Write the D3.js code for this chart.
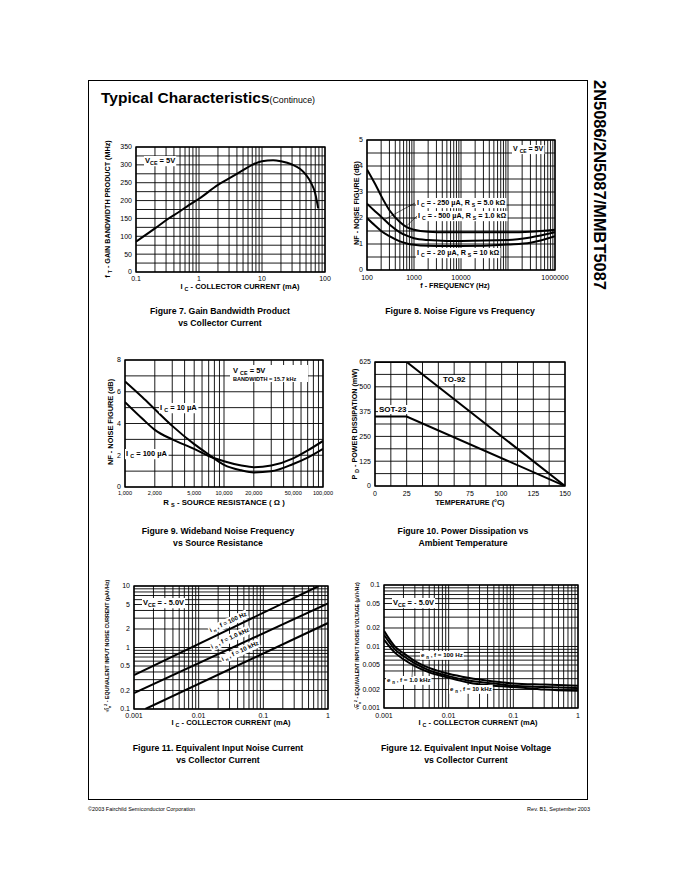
<!DOCTYPE html>
<html><head><meta charset="utf-8">
<script src="https://cdn.jsdelivr.net/npm/d3@7"></script>
<style>body{margin:0;background:#fff} text{font-family:"Liberation Sans",Arial,Helvetica,sans-serif;fill:#000}</style>
</head><body><svg id="c" width="680" height="880"></svg>
<script>
// ---------- DATA ----------
// Figure 7: Gain bandwidth product vs collector current
const fig7Current = [0.1,0.2,0.3,0.5,0.7,1,2,3,5,7,10,15,20,30,40,50,60,70,78];
const fig7Ft      = [85,122,145,170,188,205,244,262,285,300,310,313,310,301,289,272,250,220,178];
const fig7XTicks = [0.1,1,10,100];
const fig7YTicks = [0,50,100,150,200,250,300,350];

// Figure 8: Noise figure vs frequency
const fig8Freq = [100,150,200,300,500,700,1000,2000,5000,10000,100000,300000,1000000];
const nf500uA_1k  = [3.87,3.3,2.85,2.3,1.85,1.65,1.55,1.47,1.45,1.45,1.45,1.47,1.55];
const nf250uA_5k  = [2.55,2.25,2.05,1.75,1.45,1.32,1.22,1.15,1.12,1.12,1.15,1.25,1.45];
const nf20uA_10k  = [2.0,1.7,1.5,1.3,1.1,1.02,0.97,0.93,0.92,0.92,0.98,1.05,1.3];
const fig8XTicks = [100,1000,10000,1000000];
const fig8YTicks = [0,1,2,3,4,5];

// Figure 9: Wideband noise figure vs source resistance
const fig9Rs = [1000,1500,2000,3000,5000,7000,10000,15000,20000,30000,50000,70000,100000];
const nf10uA  = [6.65,5.65,4.9,3.85,2.7,2.05,1.4,1.05,0.92,0.99,1.45,1.85,2.4];
const nf100uA = [5.35,4.3,3.6,3.0,2.4,1.95,1.62,1.35,1.25,1.35,1.8,2.3,2.9];
const fig9XTicks = [1000,2000,5000,10000,20000,50000,100000];
const fig9YTicks = [0,2,4,6,8];

// Figure 10: Power dissipation vs ambient temperature
const fig10Temp = [0,25,150];
const pdTO92  = [625,625,0];
const pdSOT23 = [350,350,0];
const fig10XTicks = [0,25,50,75,100,125,150];
const fig10YTicks = [0,125,250,375,500,625];

// Figure 11: Equivalent input noise current vs collector current
const in100Hz_Ic = [0.001,0.72],   in100Hz = [0.355,10];
const in1kHz_Ic  = [0.001,1],      in1kHz  = [0.182,5.2];
const in10kHz_Ic = [0.0015,1],     in10kHz = [0.1,2.5];
const fig11XTicks = [0.001,0.01,0.1,1];
const fig11YTicks = [0.1,0.2,0.5,1,2,5,10];

// Figure 12: Equivalent input noise voltage vs collector current
const fig12Ic = [0.001,0.0015,0.002,0.003,0.005,0.01,0.02,0.05,0.1,0.3,1];
const en100Hz = [0.018,0.0098,0.0078,0.0058,0.0045,0.0036,0.0031,0.0027,0.0025,0.0024,0.0023];
const en1kHz  = [0.0155,0.0088,0.0070,0.0053,0.0041,0.0033,0.0028,0.0025,0.0023,0.0022,0.0021];
const en10kHz = [0.013,0.0078,0.0062,0.0048,0.0038,0.0031,0.0026,0.0023,0.0022,0.0020,0.0019];
const fig12YTicks = [0.001,0.002,0.005,0.01,0.02,0.05,0.1];

// ---------- HELPERS ----------
const svg = d3.select('#c');
svg.append('rect').attr('width',680).attr('height',880).attr('fill','#fff');

function logGrid(a,b){
  const out=[];
  for(let e=Math.floor(Math.log10(a)); e<=Math.ceil(Math.log10(b)); e++){
    for(let k=1;k<10;k++){ const v=k*Math.pow(10,e); if(v>=a*0.999 && v<=b*1.001) out.push(v); }
  }
  return out;
}
let clipN=0;
function panel(c){
  const g = svg.append('g');
  const [x0,x1]=c.x.range(), [y0,y1]=c.y.range();
  g.append('g').selectAll('line').data(c.xGrid).join('line')
    .attr('x1',d=>c.x(d)).attr('x2',d=>c.x(d)).attr('y1',y0).attr('y2',y1)
    .attr('stroke','#000').attr('stroke-width',0.9);
  g.append('g').selectAll('line').data(c.yGrid).join('line')
    .attr('y1',d=>c.y(d)).attr('y2',d=>c.y(d)).attr('x1',x0).attr('x2',x1)
    .attr('stroke','#000').attr('stroke-width',0.9);
  g.append('rect').attr('x',x0).attr('y',y1).attr('width',x1-x0).attr('height',y0-y1)
    .attr('fill','none').attr('stroke','#000').attr('stroke-width',1.4);
  g.append('g').selectAll('text').data(c.xTicks).join('text')
    .attr('x',d=>c.x(d)).attr('y',y0+c.xdy).attr('text-anchor','middle')
    .attr('font-size',c.xfs||7).text(c.xFmt);
  g.append('g').selectAll('text').data(c.yTicks).join('text')
    .attr('x',x0-4).attr('y',d=>c.y(d)).attr('dy','0.35em').attr('text-anchor','end')
    .attr('font-size',c.yfs||7).text(c.yFmt);
  const id='clip'+(clipN++);
  svg.append('clipPath').attr('id',id).append('rect').attr('x',x0).attr('y',y1).attr('width',x1-x0).attr('height',y0-y1);
  g.curves = g.append('g').attr('clip-path',`url(#${id})`);
  return g;
}
function rich(g, x, y, parts, o){
  const fs=o.size;
  const t=g.append('text').attr('x',x).attr('y',y).attr('font-size',fs)
    .attr('font-weight',o.weight||'bold').attr('text-anchor',o.anchor||'start');
  if(o.transform) t.attr('transform',o.transform);
  let shift=0;
  parts.forEach(p=>{
    const ts=t.append('tspan'); let target=0,size=fs,txt=p;
    if(typeof p==='object'){
      if(p.s!=null){target=fs*0.3;size=fs*0.72;txt=p.s;}
      else if(p.p!=null){target=-fs*0.4;size=fs*0.65;txt=p.p;}
      else if(p.o!=null){txt=p.o;ts.attr('text-decoration','overline');}
    }
    ts.attr('dy',target-shift).attr('font-size',size).text(txt);
    shift=target;
  });
  if(o.bg){
    const b=t.node().getBBox(), pad=o.pad==null?1:o.pad;
    const r=g.insert('rect',()=>t.node()).attr('x',b.x-pad).attr('y',b.y).attr('width',b.width+2*pad).attr('height',b.height).attr('fill','#fff');
    if(o.transform) r.attr('transform',o.transform);
  }
  return t;
}
function curve(g, xs, ys, x, y, kind){
  g.curves.append('path').datum(d3.zip(xs,ys))
    .attr('d',d3.line().x(d=>x(d[0])).y(d=>y(d[1])).curve(kind||d3.curveMonotoneX))
    .attr('fill','none').attr('stroke','#000').attr('stroke-width',2);
}
function caption(x, y, lines){
  lines.forEach((l,i)=>svg.append('text').attr('x',x).attr('y',y+i*12).attr('text-anchor','middle')
    .attr('font-size',8.7).attr('font-weight','bold').text(l));
}
const fmtComma = d3.format(',');

// ---------- PAGE ----------
svg.append('rect').attr('x',88.5).attr('y',80.5).attr('width',499).attr('height',719)
  .attr('fill','none').attr('stroke','#000').attr('stroke-width',1);
const tt = svg.append('text').attr('x',101).attr('y',103);
tt.append('tspan').attr('font-size',15.5).attr('font-weight','bold').text('Typical Characteristics');
tt.append('tspan').attr('font-size',8.8).text('(Continuce)');
svg.append('text').attr('transform','translate(594,80) rotate(90)').attr('font-size',16)
  .attr('font-weight','bold').attr('textLength',210).attr('lengthAdjust','spacingAndGlyphs')
  .text('2N5086/2N5087/MMBT5087');
svg.append('text').attr('x',88).attr('y',811).attr('font-size',5.5).text('©2003 Fairchild Semiconductor Corporation');
svg.append('text').attr('x',590).attr('y',811).attr('font-size',5.5).attr('text-anchor','end').text('Rev. B1, September 2003');

// ---------- FIGURE 7 ----------
const x7=d3.scaleLog().domain([0.1,100]).range([136,325]);
const y7=d3.scaleLinear().domain([0,350]).range([272,147]);
const g7=panel({x:x7,y:y7,xGrid:logGrid(0.1,100),yGrid:d3.range(0,351,25),xTicks:fig7XTicks,xFmt:d=>String(d),
  yTicks:fig7YTicks,yFmt:String,xdy:9});
curve(g7,fig7Current,fig7Ft,x7,y7);
rich(g7,145,163,['V',{s:'CE'},' = 5V'],{size:7.5,bg:true});
rich(svg,240,289,['I ',{s:'C'},'  - COLLECTOR CURRENT (mA)'],{size:7.5,anchor:'middle'});
rich(svg,0,0,['f ',{s:'T'},'  - GAIN BANDWIDTH PRODUCT (MHz)'],{size:7.2,anchor:'middle',transform:'translate(110,209) rotate(-90)'});
caption(220,314,['Figure 7. Gain Bandwidth Product','vs Collector Current']);

// ---------- FIGURE 8 ----------
const x8=d3.scaleLog().domain([100,1000000]).range([367,555]);
const y8=d3.scaleLinear().domain([0,5]).range([270,140]);
const g8=panel({x:x8,y:y8,xGrid:logGrid(100,1000000),yGrid:d3.range(0,5.01,0.5),xTicks:fig8XTicks,xFmt:d=>String(d),
  yTicks:fig8YTicks,yFmt:String,xdy:10});
curve(g8,fig8Freq,nf500uA_1k,x8,y8);
curve(g8,fig8Freq,nf250uA_5k,x8,y8);
curve(g8,fig8Freq,nf20uA_10k,x8,y8);
rich(g8,417,205,['I ',{s:'C'},' = - 250 µA, R ',{s:'S'},' = 5.0 kΩ'],{size:7.2,bg:true});
rich(g8,418,218,['I ',{s:'C'},' = - 500 µA, R ',{s:'S'},' = 1.0 kΩ'],{size:7.2,bg:true});
rich(g8,417,255,['I ',{s:'C'},' = - 20 µA, R ',{s:'S'},' = 10 kΩ'],{size:7.2,bg:true});
rich(g8,513,151,['V ',{s:'CE'},' = 5V'],{size:7,bg:true});
g8.append('line').attr('x1',415).attr('y1',203).attr('x2',x8(240)).attr('y2',y8(1.95)).attr('stroke','#000').attr('stroke-width',0.6);
g8.append('line').attr('x1',417).attr('y1',216).attr('x2',x8(700)).attr('y2',y8(1.7)).attr('stroke','#000').attr('stroke-width',0.6);
rich(svg,455,288,['f - FREQUENCY (Hz)'],{size:7.2,anchor:'middle'});
rich(svg,0,0,['NF - NOISE FIGURE (dB)'],{size:7.2,anchor:'middle',transform:'translate(359,203) rotate(-90)'});
caption(460,314,['Figure 8. Noise Figure vs Frequency']);

// ---------- FIGURE 9 ----------
const x9=d3.scaleLog().domain([1000,100000]).range([125,323]);
const y9=d3.scaleLinear().domain([0,8]).range([487,360]);
const g9=panel({x:x9,y:y9,xGrid:logGrid(1000,100000),yGrid:d3.range(0,8.01,1),xTicks:fig9XTicks,xFmt:fmtComma,xfs:5.6,
  yTicks:fig9YTicks,yFmt:String,xdy:8});
curve(g9,fig9Rs,nf10uA,x9,y9);
curve(g9,fig9Rs,nf100uA,x9,y9);
g9.append('rect').attr('x',230).attr('y',365).attr('width',78).attr('height',17).attr('fill','#fff');
rich(g9,233,373,['V ',{s:'CE'},'  = 5V'],{size:7.5});
rich(g9,233,381,['BANDWIDTH = 15.7 kHz'],{size:5.6});
rich(g9,160,410,['I ',{s:'C'},' = 10 µA'],{size:7.5,bg:true});
rich(g9,126,456,['I ',{s:'C'},' = 100 µA'],{size:7.5,bg:true});
rich(svg,224,505,['R ',{s:'S'},'  - SOURCE RESISTANCE ( Ω )'],{size:7.8,anchor:'middle'});
rich(svg,0,0,['NF - NOISE FIGURE (dB)'],{size:7.4,anchor:'middle',transform:'translate(113,422) rotate(-90)'});
caption(218,534,['Figure 9. Wideband Noise Frequency','vs Source Resistance']);

// ---------- FIGURE 10 ----------
const x10=d3.scaleLinear().domain([0,150]).range([375,565]);
const y10=d3.scaleLinear().domain([0,625]).range([486,362]);
const g10=panel({x:x10,y:y10,xGrid:d3.range(0,150.1,12.5),yGrid:d3.range(0,625.1,62.5),xTicks:fig10XTicks,xFmt:String,
  yTicks:fig10YTicks,yFmt:String,xdy:10});
curve(g10,fig10Temp,pdTO92,x10,y10,d3.curveLinear);
curve(g10,fig10Temp,pdSOT23,x10,y10,d3.curveLinear);
rich(g10,443,382,['TO-92'],{size:8,bg:true});
rich(g10,379,412,['SOT-23'],{size:8,bg:true});
rich(svg,470,505,['TEMPERATURE  (°C)'],{size:7.2,anchor:'middle'});
rich(svg,0,0,['P ',{s:'D'},' - POWER DISSIPATION (mW)'],{size:7.2,anchor:'middle',transform:'translate(357,424) rotate(-90)'});
caption(463,534,['Figure 10. Power Dissipation vs','Ambient Temperature']);

// ---------- FIGURE 11 ----------
const x11=d3.scaleLog().domain([0.001,1]).range([134,328]);
const y11=d3.scaleLog().domain([0.1,10]).range([709,586]);
const g11=panel({x:x11,y:y11,xGrid:logGrid(0.001,1),yGrid:logGrid(0.1,10),xTicks:fig11XTicks,xFmt:String,
  yTicks:fig11YTicks,yFmt:String,xdy:9});
curve(g11,in100Hz_Ic,in100Hz,x11,y11,d3.curveLinear);
curve(g11,in1kHz_Ic,in1kHz,x11,y11,d3.curveLinear);
curve(g11,in10kHz_Ic,in10kHz,x11,y11,d3.curveLinear);
rich(g11,0,0,['V',{s:'CE'},' = - 5.0V'],{size:7.5,bg:true,transform:'translate(143,605)'});
rich(g11,0,2,['i ',{s:'n'},' , f = 100 Hz'],{size:6.2,anchor:'middle',bg:true,transform:'translate(228,622) rotate(-25)'});
rich(g11,0,2,['i ',{s:'n'},' , f = 1.0 kHz'],{size:6.2,anchor:'middle',bg:true,transform:'translate(230,638) rotate(-25)'});
rich(g11,0,2,['i ',{s:'n'},' , f = 10 kHz'],{size:6.2,anchor:'middle',bg:true,transform:'translate(240,651) rotate(-25)'});
rich(svg,231,725,['I ',{s:'C'},'  - COLLECTOR CURRENT (mA)'],{size:7.5,anchor:'middle'});
rich(svg,0,0,['√',{o:'i'},{s:'n'},{p:'2'},' - EQUIVALENT INPUT NOISE CURRENT (pA/√Hz)'],{size:5.3,anchor:'middle',transform:'translate(109,646) rotate(-90)'});
caption(218,751,['Figure 11. Equivalent Input Noise Current','vs Collector Current']);

// ---------- FIGURE 12 ----------
const x12=d3.scaleLog().domain([0.001,1]).range([384,578]);
const y12=d3.scaleLog().domain([0.001,0.1]).range([708,585]);
const g12=panel({x:x12,y:y12,xGrid:logGrid(0.001,1),yGrid:logGrid(0.001,0.1),xTicks:fig11XTicks,xFmt:String,
  yTicks:fig12YTicks,yFmt:String,xdy:10});
curve(g12,fig12Ic,en100Hz,x12,y12);
curve(g12,fig12Ic,en1kHz,x12,y12);
curve(g12,fig12Ic,en10kHz,x12,y12);
rich(g12,393,605,['V',{s:'CE'},' = - 5.0V'],{size:7.5,bg:true});
rich(g12,421,657,['e ',{s:'n'},' , f = 100 Hz'],{size:6.2,bg:true});
rich(g12,387,682,['e ',{s:'n'},' , f = 1.0 kHz'],{size:6.2,bg:true});
rich(g12,450,691,['e ',{s:'n'},' , f = 10 kHz'],{size:6.2,bg:true});
g12.append('line').attr('x1',412).attr('y1',677).attr('x2',x12(0.0028)).attr('y2',y12(0.0055)).attr('stroke','#000').attr('stroke-width',0.6);
rich(svg,478,725,['I ',{s:'C'},'  - COLLECTOR CURRENT (mA)'],{size:7.5,anchor:'middle'});
rich(svg,0,0,['√',{o:'e'},{s:'n'},{p:'2'},' - EQUIVALENT INPUT NOISE VOLTAGE (µV/√Hz)'],{size:5.1,anchor:'middle',transform:'translate(359,646) rotate(-90)'});
caption(466,751,['Figure 12. Equivalent Input Noise Voltage','vs Collector Current']);
</script></body></html>
